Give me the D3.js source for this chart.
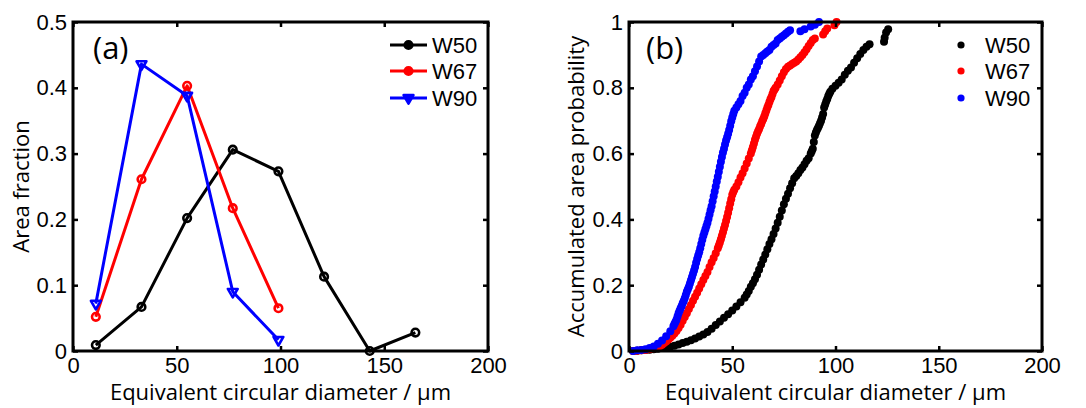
<!DOCTYPE html>
<html>
<head>
<meta charset="utf-8">
<script src="https://cdn.jsdelivr.net/npm/d3@7"></script>
<style>
  html, body { margin: 0; padding: 0; background: #fff; }
  svg { display: block; }
</style>
</head>
<body>
<svg id="chart" width="1086" height="408"></svg>
<script>
// ---------------- data ----------------
const seriesNames = ["W50", "W67", "W90"];
const seriesColors = ["#000000", "#ff0000", "#0000ff"];

// panel (a): area fraction vs bin centre
const binCentersW50 = [11, 33, 55, 77, 99, 121, 143, 165];
const binCentersShort = [11, 33, 55, 77, 99];
const w50Fraction = [0.009, 0.067, 0.202, 0.306, 0.273, 0.113, 0.0, 0.028];
const w67Fraction = [0.052, 0.261, 0.403, 0.217, 0.065];
const w90Fraction = [0.072, 0.436, 0.388, 0.090, 0.017];

// panel (b): accumulated area probability, [diameter, probability]
const w50Points = [[2,0],[4,0.001],[6,0.002],[8,0.003],[10,0.004],[12,0.005],[14,0.007],[16,0.009],[18,0.011],[20,0.013],[22,0.016],[24,0.02],[26,0.024],[28,0.028],[30,0.033],[32,0.038],[34,0.044],[36,0.05],[38,0.058],[40,0.068],[42,0.079],[44,0.09],[46,0.101],[48,0.112],[50,0.123],[52,0.135],[54,0.148],[56,0.162],[57,0.172],[58,0.182],[59,0.195],[60,0.206],[61,0.218],[62,0.232],[63,0.247],[64,0.263],[65,0.278],[66,0.293],[67,0.309],[68,0.325],[69,0.34],[70,0.356],[71,0.372],[72,0.39],[73,0.408],[74,0.427],[75,0.446],[76,0.463],[77,0.478],[78,0.495],[79,0.51],[80,0.525],[81,0.532],[82,0.54],[83,0.55],[84,0.558],[85,0.568],[86,0.578],[87,0.586],[88,0.6],[88.5,0.607],[89,0.615],[89.5,0.635],[90,0.655],[90.5,0.664],[91,0.672],[91.5,0.678],[92,0.685],[92.5,0.692],[93,0.7],[93.5,0.71],[94,0.72],[94.5,0.74],[95,0.749],[95.5,0.758],[96,0.766],[96.5,0.775],[97,0.782],[97.5,0.788],[98.5,0.797],[100,0.806],[101.5,0.815],[103,0.825],[104.5,0.84],[106,0.852],[107.5,0.862],[109,0.876],[110.5,0.89],[112,0.903],[113.5,0.915],[115,0.925],[116.5,0.932],[123.5,0.94],[123.8,0.952],[124.5,0.968],[125.5,0.978]];

const w67Points = [[2,0],[4,0.001],[6,0.002],[8,0.003],[10,0.005],[12,0.008],[14,0.012],[15,0.015],[16,0.019],[17,0.024],[18,0.029],[19,0.034],[20,0.04],[21,0.046],[22,0.053],[23,0.061],[24,0.07],[25,0.08],[26,0.092],[27,0.103],[28,0.115],[29,0.128],[30,0.14],[31,0.153],[32,0.165],[33,0.177],[34,0.19],[35,0.203],[36,0.216],[37,0.228],[38,0.24],[39,0.255],[40,0.27],[41,0.283],[42,0.297],[43,0.312],[43.5,0.321],[44,0.33],[44.5,0.34],[45,0.35],[45.5,0.361],[46,0.372],[46.5,0.383],[47,0.395],[47.5,0.407],[48,0.42],[48.5,0.434],[49,0.448],[49.5,0.461],[50,0.475],[50.5,0.483],[51,0.49],[52,0.5],[53,0.513],[54,0.527],[55,0.54],[56,0.555],[57,0.57],[58,0.585],[59,0.6],[59.5,0.61],[60,0.62],[60.5,0.631],[61,0.642],[61.5,0.651],[62,0.66],[62.5,0.668],[63,0.675],[63.5,0.683],[64,0.69],[64.5,0.698],[65,0.705],[65.5,0.713],[66,0.722],[66.5,0.731],[67,0.74],[67.5,0.748],[68,0.757],[68.5,0.765],[69,0.772],[69.5,0.781],[70,0.79],[70.5,0.795],[71,0.8],[72,0.81],[73,0.822],[74,0.835],[75,0.847],[76,0.857],[77,0.864],[78,0.868],[79,0.872],[80,0.876],[81,0.88],[82,0.886],[83,0.893],[84,0.9],[85,0.908],[86,0.917],[87,0.927],[88,0.936],[89,0.945],[90,0.95],[94,0.962],[95,0.972],[96,0.98],[99.5,0.99],[100.5,1.0]];

const w90Points = [[2,0],[4,0.002],[6,0.003],[8,0.005],[10,0.009],[12,0.014],[14,0.022],[16,0.032],[18,0.045],[20,0.06],[21.5,0.075],[22,0.082],[22.5,0.088],[23,0.095],[23.5,0.105],[24,0.115],[24.5,0.122],[25,0.13],[25.5,0.137],[26,0.145],[26.5,0.152],[27,0.16],[27.5,0.17],[28,0.18],[28.5,0.188],[29,0.195],[29.5,0.205],[30,0.215],[30.5,0.225],[31,0.235],[31.5,0.245],[32,0.255],[32.5,0.268],[33,0.28],[33.5,0.29],[34,0.3],[34.5,0.312],[35,0.325],[35.5,0.338],[36,0.35],[36.5,0.36],[37,0.37],[37.5,0.38],[38,0.39],[38.5,0.402],[39,0.415],[39.5,0.428],[40,0.44],[40.5,0.455],[41,0.47],[41.5,0.485],[42,0.5],[42.5,0.515],[43,0.53],[43.5,0.545],[44,0.56],[44.5,0.575],[45,0.59],[45.5,0.603],[46,0.615],[46.5,0.628],[47,0.64],[47.5,0.65],[48,0.66],[48.5,0.672],[49,0.685],[49.5,0.698],[50,0.71],[50.5,0.72],[51,0.73],[52,0.74],[53,0.75],[54,0.76],[55,0.775],[56,0.785],[57,0.8],[58,0.81],[59,0.825],[60,0.835],[61,0.85],[62,0.865],[63,0.88],[64,0.895],[65,0.9],[66,0.905],[67,0.91],[68,0.915],[69,0.925],[70,0.93],[71,0.935],[72,0.945],[73,0.95],[74,0.955],[75,0.96],[76,0.965],[77,0.97],[78,0.975],[83,0.972],[85,0.978],[88,0.986],[90,0.992],[92,1.0]];

// ticks
const xTicks = [0, 50, 100, 150, 200];
const xTickLabels = ["0", "50", "100", "150", "200"];
const yTicksA = [0, 0.1, 0.2, 0.3, 0.4, 0.5];
const yTickLabelsA = ["0", "0.1", "0.2", "0.3", "0.4", "0.5"];
const yTicksB = [0, 0.2, 0.4, 0.6, 0.8, 1];
const yTickLabelsB = ["0", "0.2", "0.4", "0.6", "0.8", "1"];

// ---------------- drawing ----------------
const svg = d3.select("#chart");
const tickFont = "'Liberation Sans', Arial, Helvetica, sans-serif";
const titleFont = "'Open Sans', 'DejaVu Sans', sans-serif";

function drawFrame(g, x, y, yTicks, yLabels, xTitle, yTitle, yTitleX, panelLabel) {
  const [x0, x1] = x.range();
  const [y1, y0] = y.range();
  const fmtX = (d) => xTickLabels[xTicks.indexOf(d)];
  const fmtY = (d) => yLabels[yTicks.indexOf(d)];

  const bottom = g.append("g").attr("transform", `translate(0,${y1})`)
    .call(d3.axisBottom(x).tickValues(xTicks).tickFormat(fmtX).tickSizeInner(-5).tickSizeOuter(0).tickPadding(6));
  const top = g.append("g").attr("transform", `translate(0,${y0})`)
    .call(d3.axisTop(x).tickValues(xTicks).tickFormat("").tickSizeInner(-5).tickSizeOuter(0));
  const left = g.append("g").attr("transform", `translate(${x0},0)`)
    .call(d3.axisLeft(y).tickValues(yTicks).tickFormat(fmtY).tickSizeInner(-5).tickSizeOuter(0).tickPadding(6));
  const right = g.append("g").attr("transform", `translate(${x1},0)`)
    .call(d3.axisRight(y).tickValues(yTicks).tickFormat("").tickSizeInner(-5).tickSizeOuter(0));
  [bottom, top, left, right].forEach(a => {
    a.select(".domain").remove();
    a.selectAll(".tick line").attr("stroke", "#000").attr("stroke-width", 2.5);
    a.selectAll("text").attr("fill", "#000").style("font-family", tickFont).style("font-size", "22px");
  });

  g.append("rect").attr("x", x0).attr("y", y0).attr("width", x1 - x0).attr("height", y1 - y0)
    .attr("fill", "none").attr("stroke", "#000").attr("stroke-width", 3);

  g.append("text").attr("x", (x0 + x1) / 2).attr("y", 400).attr("text-anchor", "middle")
    .style("font-family", titleFont).style("font-size", "22px").text(xTitle);
  g.append("text").attr("transform", `translate(${yTitleX},${(y0 + y1) / 2}) rotate(-90)`)
    .attr("text-anchor", "middle").attr("dy", "0.35em")
    .style("font-family", titleFont).style("font-size", "22px").text(yTitle);
  g.append("text").attr("x", panelLabel.x).attr("y", panelLabel.y)
    .style("font-family", titleFont).style("font-size", "31px").text(panelLabel.text);
}

// ----- panel (a)
const xa = d3.scaleLinear().domain([0, 200]).range([73, 488]);
const ya = d3.scaleLinear().domain([0, 0.5]).range([351, 22]);
const ga = svg.append("g");
drawFrame(ga, xa, ya, yTicksA, yTickLabelsA, "Equivalent circular diameter / \u03bcm", "Area fraction", 21, {x: 93, y: 59, text: "(a)"});

const seriesA = [
  { xs: binCentersW50, ys: w50Fraction, marker: "circle" },
  { xs: binCentersShort, ys: w67Fraction, marker: "circle" },
  { xs: binCentersShort, ys: w90Fraction, marker: "triangle" }
];
const lineA = d3.line().x(d => xa(d[0])).y(d => ya(d[1]));
const triSym = d3.symbol().type(d3.symbolTriangle).size(42);

function drawMarker(g, kind, cx, cy, color, filled) {
  if (kind === "circle") {
    g.append("circle").attr("cx", cx).attr("cy", cy).attr("r", 3.8)
      .attr("fill", filled ? color : "none").attr("stroke", color).attr("stroke-width", 2.6);
  } else {
    g.append("path").attr("d", triSym()).attr("transform", `translate(${cx},${cy}) rotate(180)`)
      .attr("fill", filled ? color : "none").attr("stroke", color).attr("stroke-width", 2.6)
      .attr("stroke-linejoin", "round");
  }
}

seriesA.forEach((s, i) => {
  const pts = s.xs.map((v, k) => [v, s.ys[k]]);
  ga.append("path").attr("d", lineA(pts)).attr("fill", "none")
    .attr("stroke", seriesColors[i]).attr("stroke-width", 3).attr("stroke-linejoin", "round");
  pts.forEach(p => drawMarker(ga, s.marker, xa(p[0]), ya(p[1]), seriesColors[i], false));
});

// legend (a)
const legRows = [45, 71, 98];
seriesNames.forEach((name, i) => {
  ga.append("line").attr("x1", 390).attr("x2", 427).attr("y1", legRows[i]).attr("y2", legRows[i])
    .attr("stroke", seriesColors[i]).attr("stroke-width", 3);
  drawMarker(ga, seriesA[i].marker, 408.5, legRows[i], seriesColors[i], true);
  ga.append("text").attr("x", 432).attr("y", legRows[i]).attr("dy", "0.36em")
    .style("font-family", tickFont).style("font-size", "22px").text(name);
});

// ----- panel (b)
const xb = d3.scaleLinear().domain([0, 200]).range([629, 1042]);
const yb = d3.scaleLinear().domain([0, 1]).range([351, 22]);
const gb = svg.append("g");

const seriesB = [w50Points, w67Points, w90Points];
seriesB.forEach((pts, i) => {
  gb.append("g").selectAll("circle").data(pts).join("circle")
    .attr("cx", d => xb(d[0])).attr("cy", d => yb(d[1])).attr("r", 4)
    .attr("fill", seriesColors[i]);
});

drawFrame(gb, xb, yb, yTicksB, yTickLabelsB, "Equivalent circular diameter / \u03bcm", "Accumulated area probability", 576, {x: 646, y: 59, text: "(b)"});

seriesNames.forEach((name, i) => {
  gb.append("circle").attr("cx", 961).attr("cy", legRows[i]).attr("r", 3.6).attr("fill", seriesColors[i]);
  gb.append("text").attr("x", 985).attr("y", legRows[i]).attr("dy", "0.36em")
    .style("font-family", tickFont).style("font-size", "22px").text(name);
});
</script>
</body>
</html>
